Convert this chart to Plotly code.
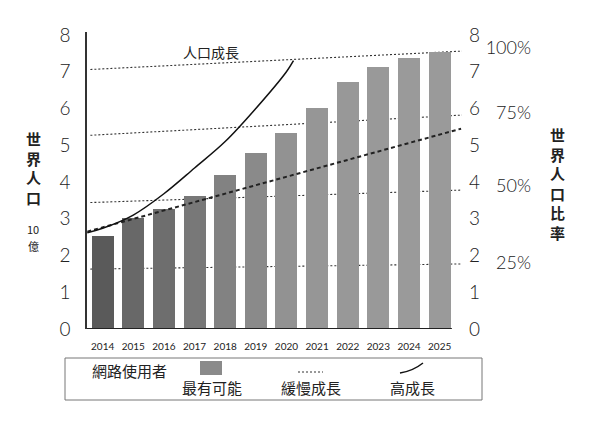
import plotly.graph_objects as go

# %%
# 網路使用者 (10億)
years = [2014, 2015, 2016, 2017, 2018, 2019, 2020, 2021, 2022, 2023, 2024, 2025]
users_likely = [2.53, 3.02, 3.27, 3.63, 4.19, 4.78, 5.34, 6.00, 6.73, 7.14, 7.36, 7.54]
bar_colors = ['#5a5a5a', '#686868', '#6e6e6e', '#787878', '#828282', '#8a8a8a',
              '#929292', '#969696', '#989898', '#999999', '#9a9a9a', '#9a9a9a']

# 高成長 curve
high_x = [2013.5, 2014, 2015, 2016, 2017, 2018, 2019, 2020, 2020.23]
high_y = [2.62, 2.74, 3.10, 3.68, 4.38, 5.10, 6.00, 7.00, 7.30]

# 緩慢成長 line
slow_x = [2013.5, 2025.7]
slow_y = [2.65, 5.45]

# 人口成長 and the 75/50/25% share lines
share_x = [2013.6, 2025.73]
pop_line = [7.06, 7.56]
share_75 = [5.27, 5.82]
share_50 = [3.44, 3.78]
share_25 = [1.63, 1.77]

left_ticks = [0, 1, 2, 3, 4, 5, 6, 7, 8]
pct_vals = [1.80, 3.89, 5.88, 7.65]
pct_text = ['25%', '50%', '75%', '100%']

# %%
W, H = 600, 421
L, T, B = 87, 32, 92
PW = W - L
PH = H - T - B


def px(x):
    return (x - L) / PW


def py(y):
    return (H - B - y) / PH


CJK = 'Noto Sans CJK TC'
NUM = 'Lato'
INK = '#222222'

fig = go.Figure()

# dotted guide lines sit behind the bars (main subplot layer)
for vals in [pop_line, share_75, share_50, share_25]:
    fig.add_trace(go.Scatter(x=share_x, y=vals, mode='lines',
                             line=dict(color='#333333', width=1.1, dash='2px,2px'),
                             hoverinfo='skip', showlegend=False))

# bars on y2 so they draw above the guides
fig.add_trace(go.Bar(x=years, y=users_likely, width=0.72, yaxis='y2',
                     marker=dict(color=bar_colors, line=dict(width=0)),
                     showlegend=False))

# growth lines on y3, top layer
fig.add_trace(go.Scatter(x=slow_x, y=slow_y, mode='lines', yaxis='y3',
                         line=dict(color='#222222', width=2, dash='4px,3px'),
                         showlegend=False))
fig.add_trace(go.Scatter(x=high_x, y=high_y, mode='lines', yaxis='y3',
                         line=dict(color='#111111', width=1.5, shape='spline', smoothing=1),
                         showlegend=False))

# bottom axis line stops at the last bar
fig.add_shape(type='line', xref='x', yref='y', x0=2013.49, x1=2025.4, y0=0, y1=0,
              line=dict(color='#222222', width=2))

annotations = []


def note(txt, x, y, size, family=CJK):
    annotations.append(dict(text=txt, x=px(x), y=py(y), xref='paper', yref='paper',
                            xanchor='center', yanchor='middle', showarrow=False,
                            font=dict(family=family, size=size, color=INK)))


# vertical titles, one character per line
note('<b>' + '<br>'.join('世界人口') + '</b>', 33, 168, 15)
note('10', 33, 229, 11)
note('億', 33, 246, 11)
note('<b>' + '<br>'.join('世界人口比率') + '</b>', 557, 183, 15)
note('人口成長', 211, 52, 14)

# legend texts
note('網路使用者', 129, 370, 15)
note('最有可能', 212, 387, 15)
note('緩慢成長', 311, 387, 15)
note('高成長', 412, 387, 15)

shapes = [
    dict(type='rect', xref='paper', yref='paper', x0=px(65), x1=px(482), y0=py(400), y1=py(358),
         line=dict(color='#777777', width=1)),
    dict(type='rect', xref='paper', yref='paper', x0=px(200), x1=px(222), y0=py(375), y1=py(361),
         fillcolor='#8a8a8a', line=dict(width=0)),
    dict(type='line', xref='paper', yref='paper', x0=px(298), x1=px(323), y0=py(372), y1=py(372),
         line=dict(color='#333333', width=1, dash='2px,2px')),
    dict(type='path', xref='paper', yref='paper',
         path='M %f,%f Q %f,%f %f,%f' % (px(400), py(373), px(413), py(371), px(423), py(363)),
         line=dict(color='#111111', width=1.5)),
]
for s in shapes:
    fig.add_shape(**s)

fig.update_layout(
    width=W, height=H,
    template='none',
    margin=dict(l=L, r=0, t=T, b=B, pad=0),
    paper_bgcolor='white', plot_bgcolor='white',
    showlegend=False,
    hovermode=False,
    bargap=0,
    annotations=annotations,
    xaxis=dict(domain=[0, px(462)], range=[2013.49, 2025.73],
               tickvals=years, ticktext=[str(y) for y in years],
               tickfont=dict(family=NUM, size=10, color=INK),
               ticks='', ticklabelstandoff=10,
               showgrid=False, zeroline=False, showline=False, automargin=False),
    yaxis=dict(range=[0, 8.08], tickvals=left_ticks,
               tickfont=dict(family=NUM, size=19, color=INK, weight=300),
               ticks='', ticklabelstandoff=11,
               showgrid=False, zeroline=False,
               showline=True, linecolor='#333333', linewidth=1.5, automargin=False),
    yaxis2=dict(range=[0, 8.08], tickvals=left_ticks, overlaying='y', anchor='free',
                position=px(462), side='right',
                tickfont=dict(family=NUM, size=19, color=INK, weight=300),
                ticks='', ticklabelstandoff=6,
                showgrid=False, zeroline=False, showline=False, automargin=False),
    yaxis3=dict(range=[0, 8.08], tickvals=pct_vals, ticktext=pct_text, overlaying='y',
                anchor='free', position=px(531), side='left',
                tickfont=dict(family=NUM, size=18, color=INK, weight=300),
                ticks='', ticklabelstandoff=0,
                showgrid=False, zeroline=False, showline=False, automargin=False),
)

# the page body has an 8px default margin; drop it so pixels line up
fig.write_html("out.html", config={'displayModeBar': False},
               post_script="document.body.style.margin='0';")
